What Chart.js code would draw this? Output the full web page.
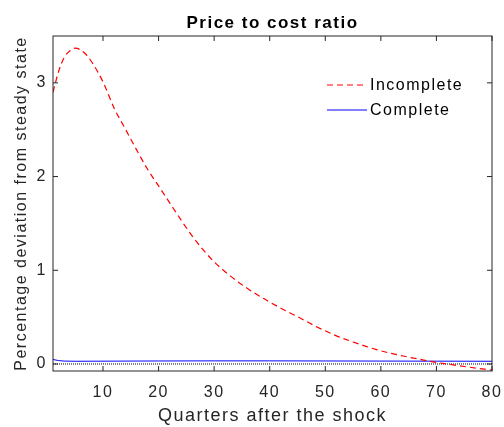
<!DOCTYPE html>
<html>
<head>
<meta charset="utf-8">
<script src="https://cdn.jsdelivr.net/npm/chart.js@4/dist/chart.umd.min.js"></script>
<style>
html,body{margin:0;padding:0;background:#fff;}
#c{display:block;}
</style>
</head>
<body>
<canvas id="c" width="504" height="427"></canvas>
<script>
// ---- data ----
const chartTitle = 'Price to cost ratio';
const xAxisTitle = 'Quarters after the shock';
const yAxisTitle = 'Percentage deviation from steady state';

const incompleteLabel = 'Incomplete';
const incompleteQuarters = [1,2,3,4,5,6,7,8,10,12,14,16,18,20,22,24,26,28,30,33,36,39,42,45,48,52,55,58,61,64,67,70,73,76,80];
const incompleteValues   = [2.90,3.12,3.27,3.34,3.37,3.35,3.30,3.22,3.01,2.73,2.51,2.29,2.08,1.90,1.72,1.54,1.37,1.22,1.09,0.935,0.805,0.695,0.595,0.505,0.41,0.30,0.235,0.175,0.125,0.085,0.05,0.017,-0.01,-0.035,-0.065];

const completeLabel = 'Complete';
const completeQuarters = [1,2,3,5,10,20,30,40,50,60,70,80];
const completeValues   = [0.048,0.036,0.031,0.029,0.030,0.032,0.033,0.033,0.032,0.031,0.030,0.029];

const zeroLineQuarters = [1,80];
const zeroLineValues   = [0,0];

const xTickValues = [10,20,30,40,50,60,70,80];
const yTickValues = [0,1,2,3];
const xMin = 1, xMax = 80;
const yMin = -0.075, yMax = 3.5;

// ---- helpers ----
const toXY = (xs, ys) => xs.map((x, i) => ({x: x, y: ys[i]}));
const FONT = '"Liberation Sans", Arial, Helvetica, sans-serif';
const LS = '1.5px';
const AXIS_COLOR = '#262626';

const matlabPlugin = {
  id: 'matlabAxes',
  beforeLayout(chart) { chart.ctx.letterSpacing = LS; },
  beforeDraw(chart) { chart.ctx.letterSpacing = LS; },
  afterDatasetsDraw(chart) {
    const {ctx, chartArea: {left, right, top, bottom}, scales: {x, y}} = chart;
    ctx.save();
    ctx.strokeStyle = AXIS_COLOR;
    ctx.lineWidth = 1;
    ctx.setLineDash([]);
    ctx.strokeRect(left, top, right - left, bottom - top);
    ctx.beginPath();
    xTickValues.forEach(v => {
      const px = x.getPixelForValue(v);
      ctx.moveTo(px, bottom); ctx.lineTo(px, bottom - 5);
      ctx.moveTo(px, top); ctx.lineTo(px, top + 5);
    });
    yTickValues.forEach(v => {
      const py = y.getPixelForValue(v);
      ctx.moveTo(left, py); ctx.lineTo(left + 5, py);
      ctx.moveTo(right, py); ctx.lineTo(right - 5, py);
    });
    ctx.stroke();

    // legend (inside axes, top-right)
    const items = chart.data.datasets.filter(d => d.label);
    const lineX0 = right - 165, lineX1 = right - 125, textX = right - 122;
    let rowY = top + 49;
    ctx.font = '16px ' + FONT;
    ctx.letterSpacing = LS;
    ctx.textBaseline = 'middle';
    ctx.textAlign = 'left';
    items.forEach(d => {
      ctx.beginPath();
      ctx.strokeStyle = d.borderColor;
      ctx.lineWidth = d.borderWidth;
      ctx.setLineDash(d.borderDash || []);
      ctx.moveTo(lineX0, rowY); ctx.lineTo(lineX1, rowY);
      ctx.stroke();
      ctx.setLineDash([]);
      ctx.fillStyle = '#000';
      ctx.fillText(d.label, textX, rowY + 1);
      rowY += 25;
    });
    ctx.restore();
  }
};

new Chart(document.getElementById('c'), {
  type: 'line',
  data: {
    datasets: [
      {
        label: incompleteLabel,
        data: toXY(incompleteQuarters, incompleteValues),
        borderColor: '#ff0000',
        borderWidth: 1.2,
        borderDash: [6, 4],
        pointRadius: 0,
        cubicInterpolationMode: 'monotone',
        fill: false
      },
      {
        label: completeLabel,
        data: toXY(completeQuarters, completeValues),
        borderColor: '#0000ff',
        borderWidth: 1,
        pointRadius: 0,
        cubicInterpolationMode: 'monotone',
        fill: false
      },
      {
        label: '',
        data: toXY(zeroLineQuarters, zeroLineValues),
        borderColor: '#000000',
        borderWidth: 1,
        borderDash: [1, 1],
        pointRadius: 0,
        fill: false
      }
    ]
  },
  options: {
    responsive: false,
    animation: false,
    devicePixelRatio: 1,
    layout: {padding: {left: 0, right: 12, top: 0, bottom: 0}},
    plugins: {
      legend: {display: false},
      tooltip: {enabled: false},
      title: {
        display: true,
        text: chartTitle,
        fullSize: false,
        color: '#000',
        font: {family: FONT, size: 17, weight: 'bold', lineHeight: 1.2},
        padding: {top: 13, bottom: 2.6}
      }
    },
    scales: {
      x: {
        type: 'linear',
        min: xMin, max: xMax,
        afterBuildTicks: s => { s.ticks = xTickValues.map(v => ({value: v})); },
        afterFit: s => { s.height = 56; s.paddingLeft = 0; s.paddingRight = 0; },
        grid: {display: false, drawTicks: false},
        border: {display: false},
        ticks: {
          color: AXIS_COLOR,
          font: {family: FONT, size: 16, lineHeight: 1.2},
          padding: 12,
          maxRotation: 0,
          autoSkip: false,
          callback: v => String(v)
        },
        title: {
          display: true, text: xAxisTitle, color: AXIS_COLOR,
          font: {family: FONT, size: 18, lineHeight: 1.2},
          padding: {top: 0, bottom: 0}
        }
      },
      y: {
        type: 'linear',
        min: yMin, max: yMax,
        afterBuildTicks: s => { s.ticks = yTickValues.map(v => ({value: v})); },
        afterFit: s => { s.width = 53; s.paddingTop = 0; s.paddingBottom = 0; },
        grid: {display: false, drawTicks: false},
        border: {display: false},
        ticks: {
          color: AXIS_COLOR,
          font: {family: FONT, size: 16, lineHeight: 1.2},
          padding: 6,
          autoSkip: false,
          callback: v => String(v)
        },
        title: {
          display: true, text: yAxisTitle, color: AXIS_COLOR,
          font: {family: FONT, size: 16, lineHeight: 1.2},
          padding: {top: 12, bottom: 0}
        }
      }
    }
  },
  plugins: [matlabPlugin]
});
</script>
</body>
</html>
